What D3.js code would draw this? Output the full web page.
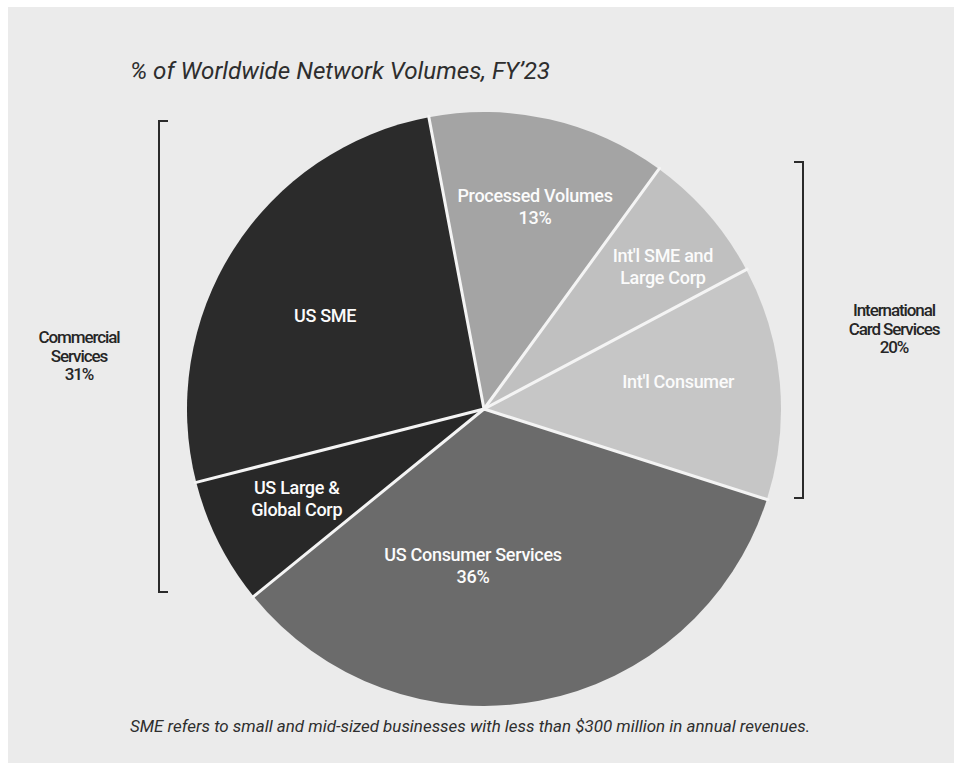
<!DOCTYPE html>
<html>
<head>
<meta charset="utf-8">
<script src="https://cdn.jsdelivr.net/npm/d3@7"></script>
<style>
  body { margin: 0; background: #ffffff; }
  svg { display: block; }
  .slice-label { font-family: Roboto, "Noto Sans", sans-serif; font-weight: 500; fill: #fbfbfb; text-anchor: middle; letter-spacing: -0.3px; }
  .side-label { font-family: Roboto, "Noto Sans", sans-serif; font-weight: 500; fill: #262626; text-anchor: middle; }
  .note { font-family: Roboto, "Noto Sans", sans-serif; font-style: italic; fill: #2e2e2e; }
</style>
</head>
<body>
<div id="chart"></div>
<script>
// slice values as drawn (share of worldwide network volumes, %)
var segments = ["Processed Volumes", "Int'l SME and Large Corp", "Int'l Consumer",
                "US Consumer Services", "US Large & Global Corp", "US SME"];
var shares = [13.0, 7.2, 12.7, 34.2, 6.9, 26.0];
// printed label lines for each slice
var sliceText = [["Processed Volumes", "13%"], ["Int'l SME and", "Large Corp"], ["Int'l Consumer"],
                 ["US Consumer Services", "36%"], ["US Large &", "Global Corp"], ["US SME"]];
var groups = ["Commercial Services", "International Card Services"];
var groupShares = ["31%", "20%"];
var titleText = "% of Worldwide Network Volumes, FY\u201923";
var noteText = "SME refers to small and mid-sized businesses with less than $300 million in annual revenues.";

var width = 954, height = 763;
var cx = 484, cy = 409, radius = 297;

var colors = d3.scaleOrdinal()
  .domain(segments)
  .range(["#a4a4a4", "#c0c0c0", "#c6c6c6", "#6b6b6b", "#282828", "#2b2b2b"]);

// label anchor: radius fraction and angle offset (deg) from slice middle
var labelRad = [0.70, 0.77, 0.66, 0.53, 0.70, 0.62];
var labelShift = [1.5, 2.4, -2.7, 14.7, 1.0, -2.2];

var svg = d3.select("#chart").append("svg")
  .attr("width", width)
  .attr("height", height);

svg.append("rect")
  .attr("x", 8).attr("y", 7)
  .attr("width", width - 8).attr("height", height - 7)
  .attr("fill", "#ebebeb");

var startA = -10.7 * Math.PI / 180;
var pie = d3.pie()
  .sort(null)
  .startAngle(startA)
  .endAngle(startA + 2 * Math.PI)
  .value(function(d) { return d; });

var arcs = pie(shares);
var arc = d3.arc().innerRadius(0).outerRadius(radius);

var g = svg.append("g")
  .attr("transform", "translate(" + cx + "," + cy + ")");

g.selectAll("path.slice")
  .data(arcs)
  .enter().append("path")
  .attr("class", "slice")
  .attr("d", arc)
  .attr("fill", function(d, i) { return colors(segments[i]); });

// white separators between slices
g.selectAll("line.sep")
  .data(arcs)
  .enter().append("line")
  .attr("class", "sep")
  .attr("x1", 0).attr("y1", 0)
  .attr("x2", function(d) { return Math.sin(d.startAngle) * (radius + 1); })
  .attr("y2", function(d) { return -Math.cos(d.startAngle) * (radius + 1); })
  .attr("stroke", "#f4f4f4")
  .attr("stroke-width", 3)
  .attr("stroke-linecap", "round");

var labels = g.selectAll("text.slice-label")
  .data(arcs)
  .enter().append("text")
  .attr("class", "slice-label")
  .style("font-size", "18px")
  .attr("transform", function(d, i) {
    var a = (d.startAngle + d.endAngle) / 2 + labelShift[i] * Math.PI / 180;
    var r = radius * labelRad[i];
    var n = sliceText[i].length;
    return "translate(" + (Math.sin(a) * r) + "," + (-Math.cos(a) * r - (n - 1) * 11 + 6) + ")";
  });

labels.each(function(d, i) {
  var t = d3.select(this);
  sliceText[i].forEach(function(line, k) {
    t.append("tspan")
      .attr("x", 0)
      .attr("dy", k === 0 ? 0 : 22)
      .text(line);
  });
});

// group brackets
function bracket(x, y0, y1, dir) {
  svg.append("path")
    .attr("d", "M" + (x + dir * 9) + "," + y0 + "H" + x + "V" + y1 + "H" + (x + dir * 9))
    .attr("fill", "none")
    .attr("stroke", "#2a2a2a")
    .attr("stroke-width", 2);
}
bracket(159, 121, 592, 1);
bracket(803, 162, 498, -1);

function sideLabel(x, y, lines) {
  var t = svg.append("text")
    .attr("class", "side-label")
    .attr("x", x).attr("y", y)
    .style("font-size", "17px")
    .style("letter-spacing", "-1.1px");
  lines.forEach(function(line, k) {
    t.append("tspan").attr("x", x).attr("dy", k === 0 ? 0 : 18.5).text(line);
  });
}
sideLabel(79, 343, ["Commercial", "Services", groupShares[0]]);
sideLabel(894, 316, ["International", "Card Services", groupShares[1]]);

svg.append("text")
  .attr("class", "note")
  .attr("x", 130).attr("y", 79)
  .style("font-size", "23px")
  .attr("textLength", 420)
  .attr("lengthAdjust", "spacingAndGlyphs")
  .text(titleText);

svg.append("text")
  .attr("class", "note")
  .attr("x", 130).attr("y", 732)
  .style("font-size", "16.5px")
  .attr("textLength", 680)
  .attr("lengthAdjust", "spacingAndGlyphs")
  .text(noteText);
</script>
</body>
</html>
